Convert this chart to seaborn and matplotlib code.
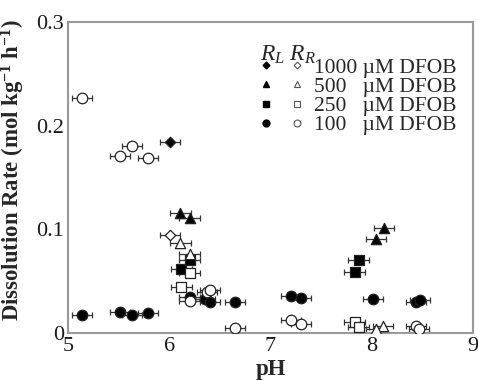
import numpy as np
import pandas as pd
import matplotlib
matplotlib.use("Agg")
import matplotlib.pyplot as plt
import seaborn as sns
from matplotlib.legend_handler import HandlerTuple
from matplotlib.lines import Line2D

# ---- data ----
# R_L (filled markers) and R_R (open markers) per DFOB concentration
l1000_ph = [6.01]
l1000_rate = [0.184]
r1000_ph = [6.01]
r1000_rate = [0.0945]

l500_ph = [6.11, 6.20, 8.12, 8.04]
l500_rate = [0.1155, 0.111, 0.101, 0.091]
r500_ph = [6.11, 6.20, 8.11, 8.04]
r500_rate = [0.087, 0.076, 0.0068, 0.0036]

l250_ph = [6.12, 6.20, 7.87, 7.83]
l250_rate = [0.062, 0.070, 0.070, 0.059]
r250_ph = [6.12, 6.20, 7.83, 7.87]
r250_rate = [0.044, 0.058, 0.011, 0.006]

l100_ph = [5.14, 5.51, 5.63, 5.79, 6.20, 6.35, 6.40, 6.65, 7.20, 7.30, 8.01, 8.44, 8.48]
l100_rate = [0.0175, 0.020, 0.017, 0.019, 0.035, 0.0325, 0.030, 0.030, 0.036, 0.034, 0.033, 0.030, 0.032]
r100_ph = [5.14, 5.51, 5.63, 5.79, 6.20, 6.37, 6.40, 6.65, 7.20, 7.30, 8.44, 8.47]
r100_rate = [0.227, 0.171, 0.180, 0.169, 0.031, 0.040, 0.041, 0.005, 0.0125, 0.0087, 0.007, 0.0036]

ph_err = 0.1

conc_labels = ["1000", "500", "250", "100"]
legend_labels = ["1000 \u00b5M DFOB", "500   \u00b5M DFOB", "250   \u00b5M DFOB", "100   \u00b5M DFOB"]
x_ticks = [5, 6, 7, 8, 9]
y_ticks = [0, 0.1, 0.2, 0.3]
y_ticklabels = ["0", "0.1", "0.2", "0.3"]

# ---- build frame ----
rows = []
for conc, kind, phs, rates in [
    ("1000", "L", l1000_ph, l1000_rate), ("1000", "R", r1000_ph, r1000_rate),
    ("500", "L", l500_ph, l500_rate), ("500", "R", r500_ph, r500_rate),
    ("250", "L", l250_ph, l250_rate), ("250", "R", r250_ph, r250_rate),
    ("100", "L", l100_ph, l100_rate), ("100", "R", r100_ph, r100_rate),
]:
    for p, r in zip(phs, rates):
        rows.append({"pH": p, "rate": r, "conc": conc, "kind": kind})
df = pd.DataFrame(rows)

sns.set_theme(style="white")
plt.rcParams["font.family"] = ["Liberation Serif", "DejaVu Serif"]
plt.rcParams["mathtext.fontset"] = "custom"
plt.rcParams["mathtext.rm"] = "Liberation Serif"
plt.rcParams["mathtext.it"] = "Liberation Serif:italic"
plt.rcParams["mathtext.bf"] = "Liberation Serif:bold"

markers = {"1000": "D", "500": "^", "250": "s", "100": "o"}
msize = {"1000": 5.3, "500": 7.4, "250": 6.6, "100": 7.6}

fig = plt.figure(figsize=(4.78, 3.80), dpi=100)
ax = fig.add_axes([68 / 478, 1 - 333 / 380, (473 - 68) / 478, (333 - 22) / 380])

for kind in ["L", "R"]:
    for conc in ["100", "250", "500", "1000"]:
        sub = df[(df.conc == conc) & (df.kind == kind)]
        ax.errorbar(sub["pH"], sub["rate"], xerr=ph_err, fmt="none",
                    ecolor="#333333", elinewidth=0.9, capsize=2.5, capthick=0.9, zorder=2)
        fc = "black" if kind == "L" else "white"
        sns.scatterplot(data=sub, x="pH", y="rate", marker=markers[conc],
                        s=msize[conc] ** 2, color=fc, edgecolor="#222222",
                        linewidth=0.9, ax=ax, zorder=3, legend=False)

ax.set_xlim(5, 9)
ax.set_ylim(0, 0.3)
ax.set_xticks(x_ticks)
ax.set_xticklabels([str(t) for t in x_ticks])
ax.set_yticks(y_ticks)
ax.set_yticklabels(y_ticklabels)
ax.set_yticks([0.05, 0.15, 0.25], minor=True)
ax.tick_params(axis="both", which="both", direction="out", length=3, width=1,
               color="#888888", labelsize=16, pad=0, labelcolor="#1a1a1a")
ax.tick_params(axis="both", which="minor", length=3)
for sp in ax.spines.values():
    sp.set_color("#999999")
    sp.set_linewidth(1.5)
    sp.set_visible(True)

ax.set_xlabel("pH", fontsize=16.5, fontweight="bold", labelpad=2)
ax.set_ylabel("Dissolution Rate (mol kg$^{\\mathbf{-1}}$ h$^{\\mathbf{-1}}$)",
              fontsize=16.4, fontweight="bold")
ax.yaxis.set_label_coords(-0.102, 0.524)

handles = []
for conc in conc_labels:
    f = Line2D([], [], marker=markers[conc], linestyle="none", markersize=msize[conc] * 0.65,
               markerfacecolor="black", markeredgecolor="black")
    o = Line2D([], [], marker=markers[conc], linestyle="none", markersize=msize[conc] * 0.65,
               markerfacecolor="white", markeredgecolor="#555555", markeredgewidth=0.8)
    handles.append((f, o))
leg = ax.legend(handles, legend_labels, handler_map={tuple: HandlerTuple(ndivide=None, pad=0.79)},
                loc="upper left", bbox_to_anchor=(0.474, 0.93), frameon=False,
                fontsize=15.5, handlelength=2.0, handletextpad=0.49, labelspacing=-0.04,
                title="$R_L\\ R_R$", title_fontsize=17, alignment="left",
                borderaxespad=0, borderpad=0)
leg._legend_box.sep = -6

fig.savefig("out.png", dpi=100)
